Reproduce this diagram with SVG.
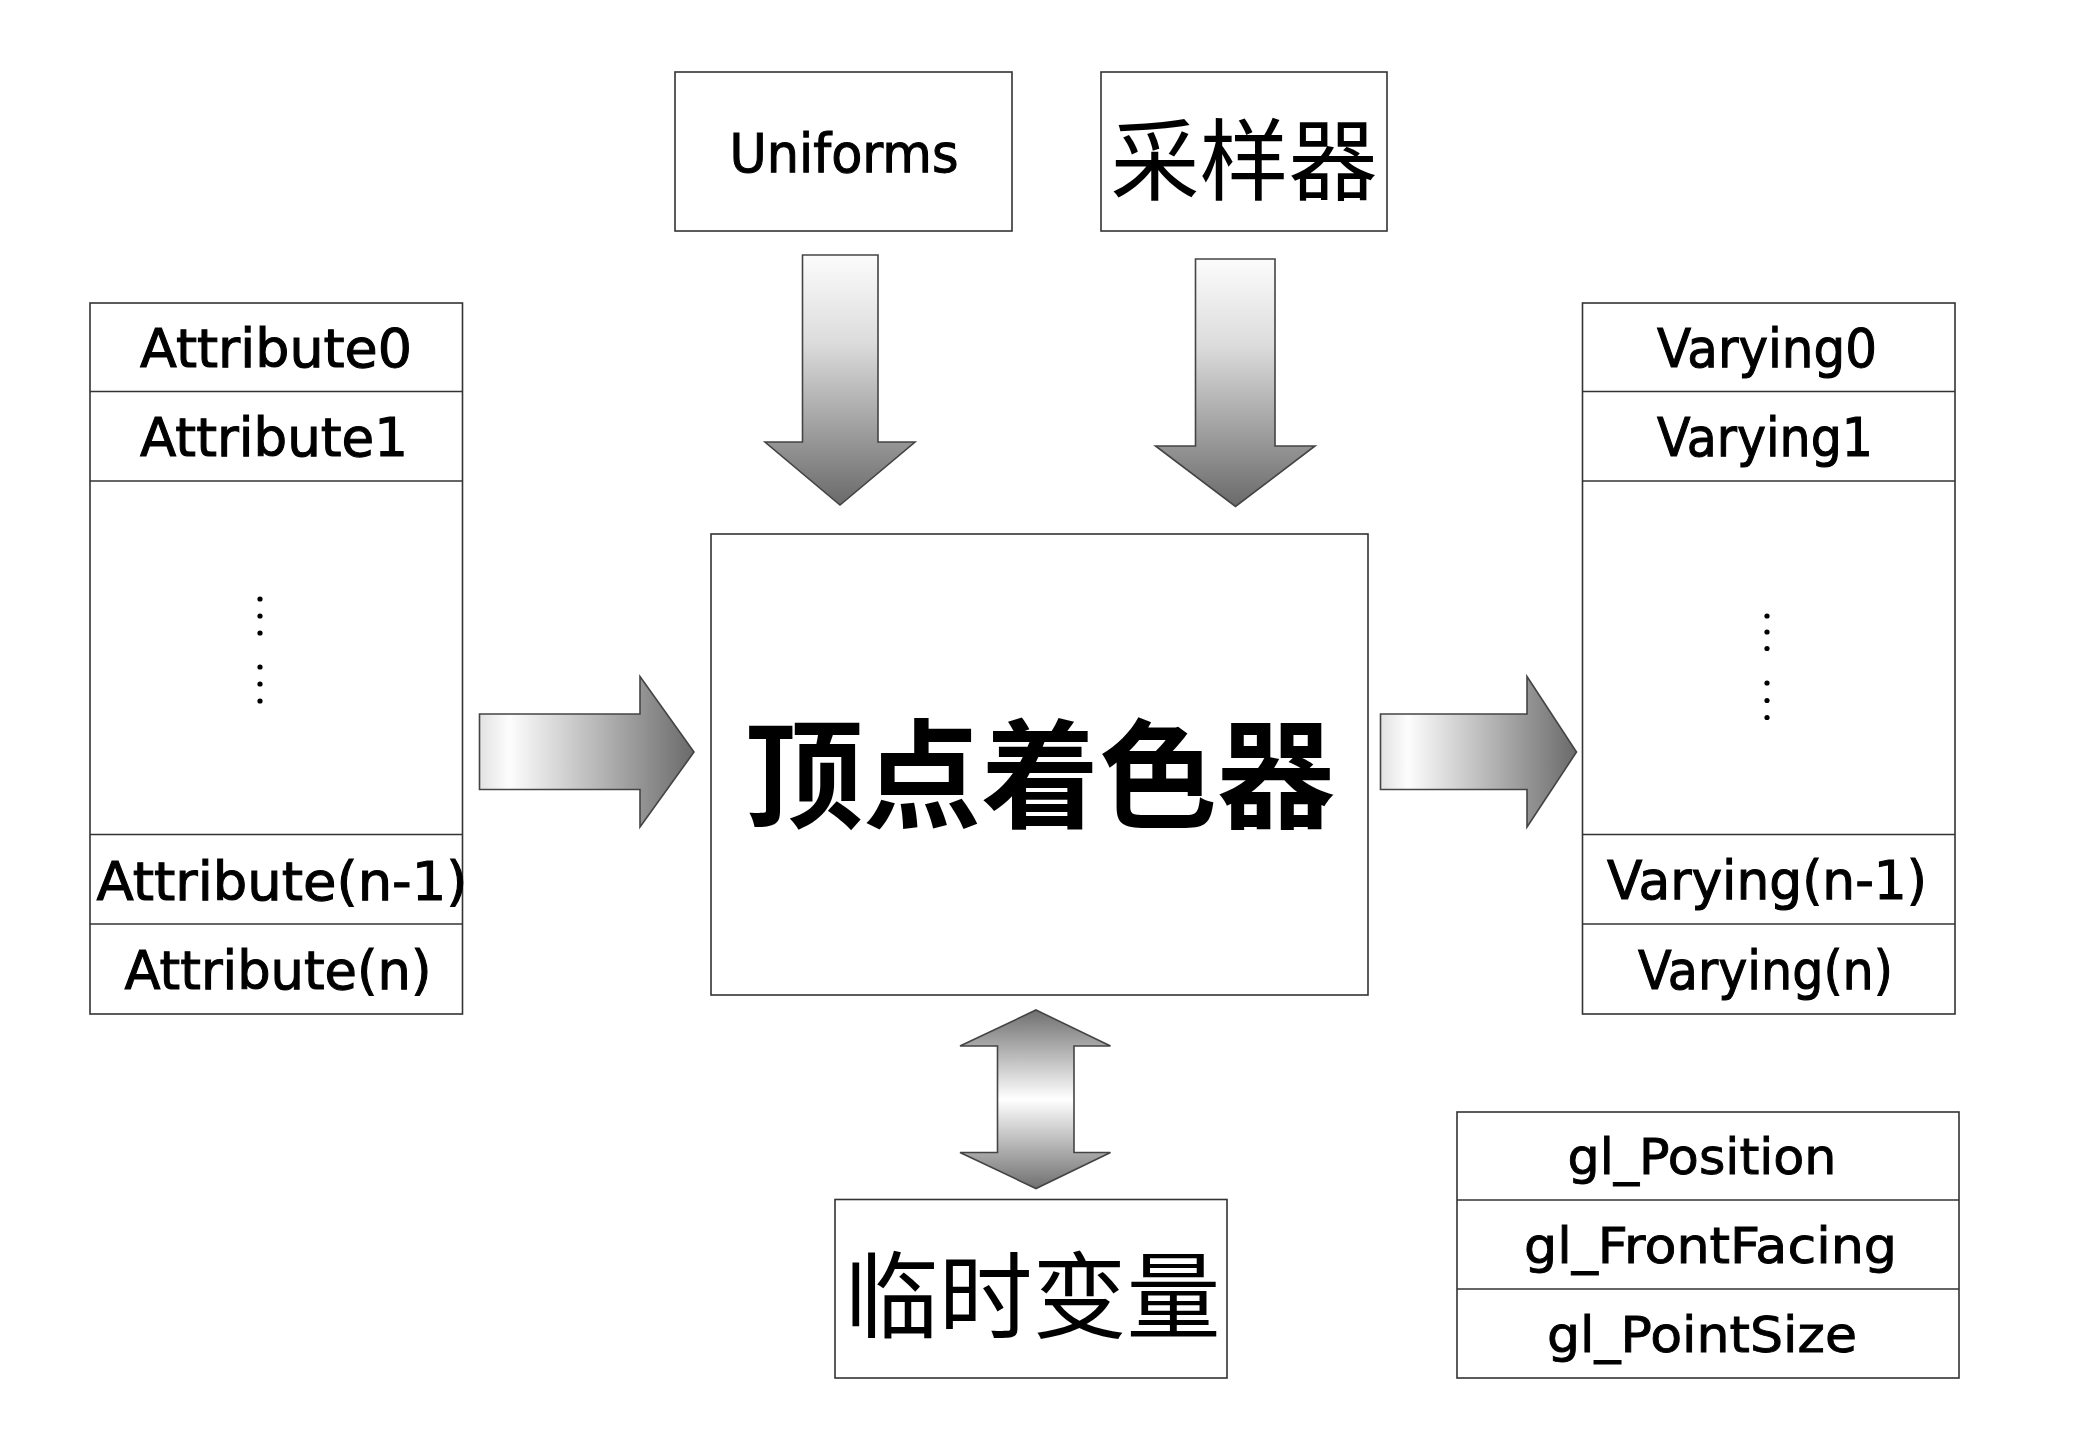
<svg xmlns="http://www.w3.org/2000/svg" width="2083" height="1440" viewBox="0 0 2083 1440">
<defs>
<style>
.box{fill:#fff;stroke:#333;stroke-width:1.6}
.ln{stroke:#333;stroke-width:1.6;fill:none}
.lat{font-family:"DejaVu Sans","Liberation Sans",sans-serif;font-size:54px;fill:#000;stroke:#000;stroke-width:1.1;text-anchor:middle}
.gl{font-family:"DejaVu Sans","Liberation Sans",sans-serif;font-size:50px;fill:#000;stroke:#000;stroke-width:0.9;text-anchor:middle}
.cjk{font-family:"Noto Sans CJK SC",sans-serif;fill:#000;text-anchor:middle}
.arr{stroke:#444;stroke-width:1.6;stroke-linejoin:miter}
.dot{fill:#000}
</style>
<linearGradient id="gDown" x1="0" y1="0" x2="0" y2="1">
<stop offset="0" stop-color="#fcfcfc"/>
<stop offset="0.35" stop-color="#dcdcdc"/>
<stop offset="1" stop-color="#6a6a6a"/>
</linearGradient>
<linearGradient id="gRight" x1="0" y1="0" x2="1" y2="0">
<stop offset="0" stop-color="#e2e2e2"/>
<stop offset="0.14" stop-color="#fdfdfd"/>
<stop offset="1" stop-color="#6a6a6a"/>
</linearGradient>
<linearGradient id="gBoth" x1="0" y1="0" x2="0" y2="1">
<stop offset="0" stop-color="#707070"/>
<stop offset="0.5" stop-color="#ffffff"/>
<stop offset="1" stop-color="#707070"/>
</linearGradient>
</defs>
<rect width="2083" height="1440" fill="#fff"/>

<g id="uniforms">
<rect class="box" x="675" y="72" width="337" height="159"/>
<text class="lat" x="844" y="172" textLength="229" lengthAdjust="spacingAndGlyphs">Uniforms</text>
</g>

<g id="sampler">
<rect class="box" x="1101" y="72" width="286" height="159"/>
<text class="cjk" x="1244" y="193" font-size="89">采样器</text>
</g>

<g id="attributes">
<rect class="box" x="90" y="303" width="372.5" height="711"/>
<line class="ln" x1="90" y1="391.5" x2="462.5" y2="391.5"/>
<line class="ln" x1="90" y1="481" x2="462.5" y2="481"/>
<line class="ln" x1="90" y1="834.5" x2="462.5" y2="834.5"/>
<line class="ln" x1="90" y1="924" x2="462.5" y2="924"/>
<text class="lat" x="276" y="367" textLength="272" lengthAdjust="spacingAndGlyphs">Attribute0</text>
<text class="lat" x="274" y="456" textLength="268" lengthAdjust="spacingAndGlyphs">Attribute1</text>
<circle class="dot" cx="260" cy="599" r="2.6"/>
<circle class="dot" cx="260" cy="616" r="2.6"/>
<circle class="dot" cx="260" cy="633" r="2.6"/>
<circle class="dot" cx="260" cy="667" r="2.6"/>
<circle class="dot" cx="260" cy="684" r="2.6"/>
<circle class="dot" cx="260" cy="701" r="2.6"/>
<text class="lat" x="282" y="900" textLength="371" lengthAdjust="spacingAndGlyphs">Attribute(n-1)</text>
<text class="lat" x="278" y="989" textLength="307" lengthAdjust="spacingAndGlyphs">Attribute(n)</text>
</g>

<g id="vertex-shader">
<rect class="box" x="711" y="534" width="657" height="461"/>
<text class="cjk" x="1040" y="819" font-size="118" font-weight="700">顶点着色器</text>
</g>

<g id="varyings">
<rect class="box" x="1582.5" y="303" width="372.5" height="711"/>
<line class="ln" x1="1582.5" y1="391.5" x2="1955" y2="391.5"/>
<line class="ln" x1="1582.5" y1="481" x2="1955" y2="481"/>
<line class="ln" x1="1582.5" y1="834.5" x2="1955" y2="834.5"/>
<line class="ln" x1="1582.5" y1="924" x2="1955" y2="924"/>
<text class="lat" x="1767" y="367" textLength="220" lengthAdjust="spacingAndGlyphs">Varying0</text>
<text class="lat" x="1765" y="456" textLength="216" lengthAdjust="spacingAndGlyphs">Varying1</text>
<circle class="dot" cx="1767" cy="616" r="2.6"/>
<circle class="dot" cx="1767" cy="632" r="2.6"/>
<circle class="dot" cx="1767" cy="648.5" r="2.6"/>
<circle class="dot" cx="1767" cy="683" r="2.6"/>
<circle class="dot" cx="1767" cy="700.5" r="2.6"/>
<circle class="dot" cx="1767" cy="717.5" r="2.6"/>
<text class="lat" x="1767" y="899" textLength="320" lengthAdjust="spacingAndGlyphs">Varying(n-1)</text>
<text class="lat" x="1765.5" y="989" textLength="255" lengthAdjust="spacingAndGlyphs">Varying(n)</text>
</g>

<g id="temp-vars">
<rect class="box" x="835" y="1199.5" width="392" height="178.5"/>
<text class="cjk" x="1032.5" y="1331" font-size="94">临时变量</text>
</g>

<g id="builtins">
<rect class="box" x="1457" y="1112" width="502" height="266"/>
<line class="ln" x1="1457" y1="1200" x2="1959" y2="1200"/>
<line class="ln" x1="1457" y1="1289" x2="1959" y2="1289"/>
<text class="gl" x="1702" y="1174" textLength="269" lengthAdjust="spacingAndGlyphs">gl_Position</text>
<text class="gl" x="1710.5" y="1263" textLength="373" lengthAdjust="spacingAndGlyphs">gl_FrontFacing</text>
<text class="gl" x="1702" y="1352" textLength="310" lengthAdjust="spacingAndGlyphs">gl_PointSize</text>
</g>

<g id="connectors">
<path class="arr" fill="url(#gDown)" d="M802.5,255 H878 V442 H915 L840,505 L765,442 H802.5 Z"/>
<path class="arr" fill="url(#gDown)" d="M1195.5,259 H1275 V446 H1315 L1235.5,506.5 L1155.5,446 H1195.5 Z"/>
<path class="arr" fill="url(#gRight)" d="M479.5,714 H640 V676.5 L694,752 L640,827 V789.5 H479.5 Z"/>
<path class="arr" fill="url(#gRight)" d="M1380.5,714 H1527 V676.5 L1576.5,752 L1527,827 V789.5 H1380.5 Z"/>
<path class="arr" fill="url(#gBoth)" d="M1036,1010 L1110.5,1046 H1074 V1152.5 H1110.5 L1036,1188.5 L960,1152.5 H997.5 V1046 H960 Z"/>
</g>
</svg>
